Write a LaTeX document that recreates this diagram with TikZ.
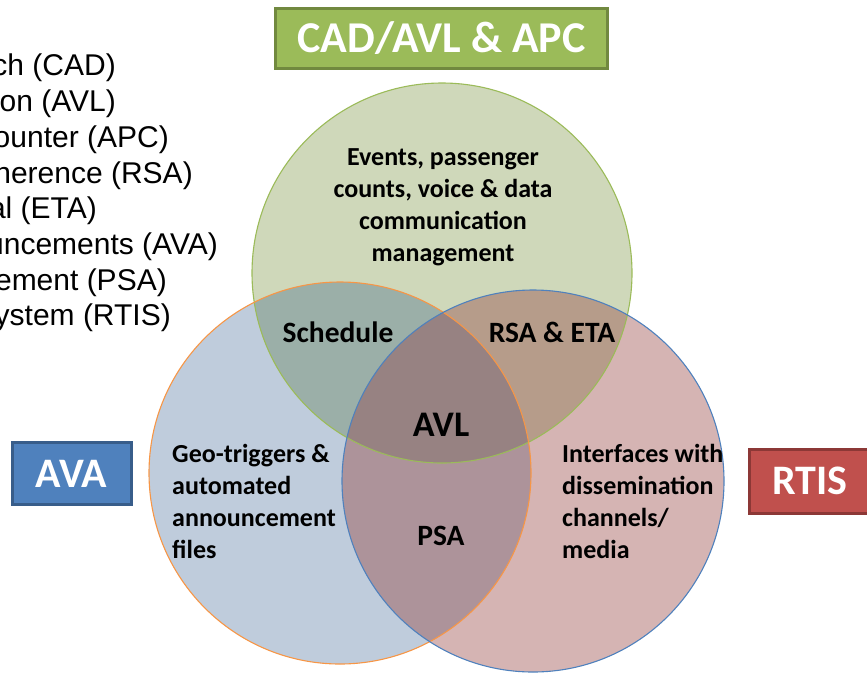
\documentclass[tikz,border=0pt]{standalone}
\usepackage{fontspec}
\setmainfont{Carlito}
\newfontfamily\listfont{Liberation Sans}
\definecolor{gfill}{HTML}{CFD8BA}
\definecolor{bfill}{HTML}{BFCCDC}
\definecolor{rfill}{HTML}{D5B4B3}
\definecolor{gbfill}{HTML}{9BAFA8}
\definecolor{grfill}{HTML}{B69C8A}
\definecolor{brfill}{HTML}{AD939A}
\definecolor{allfill}{HTML}{978282}
\definecolor{gline}{HTML}{9BBB59}
\definecolor{bline}{HTML}{F79646}
\definecolor{rline}{HTML}{4F81BD}
\definecolor{gtag}{HTML}{9BBB59}
\definecolor{gtagline}{HTML}{71893F}
\definecolor{btag}{HTML}{4F81BD}
\definecolor{btagline}{HTML}{385D8A}
\definecolor{rtag}{HTML}{C0504D}
\definecolor{rtagline}{HTML}{8C3836}

\begin{document}
\begin{tikzpicture}[x=1pt,y=-1pt,
		tag/.style={draw, line width=3pt, text=white, inner sep=0pt,
			font=\bfseries\fontsize{44}{52}\selectfont},
		lbl/.style={font=\bfseries\fontsize{26}{32}\selectfont, inner sep=0pt},
		big/.style={font=\bfseries\fontsize{29.5}{34}\selectfont, inner sep=0pt},
		item/.style={anchor=east, inner sep=0pt, font=\listfont\fontsize{30}{36}\selectfont}]
			\useasboundingbox (0,0) rectangle (867,673);

			% circles and their overlaps
			\fill[gfill] (442,273) circle (190pt);
			\fill[bfill] (340,473) circle (191pt);
			\fill[rfill] (533,481) circle (191pt);
			\begin{scope}
				\clip (442,273) circle (190pt);
				\fill[gbfill] (340,473) circle (191pt);
				\fill[grfill] (533,481) circle (191pt);
			\end{scope}
			\begin{scope}
				\clip (340,473) circle (191pt);
				\fill[brfill] (533,481) circle (191pt);
				\clip (442,273) circle (190pt);
				\fill[allfill] (533,481) circle (191pt);
			\end{scope}
			\draw[gline, line width=1.1pt] (442,273) circle (190pt);
			\draw[bline, line width=1.1pt] (340,473) circle (191pt);
			\draw[rline, line width=1.1pt] (533,481) circle (191pt);

			% labels
			\node[lbl, align=center] (events) at (443,207)
				{Events, passenger\\counts, voice \& data\\communication\\management};
			\node[big] (sched) at (338,332) {Schedule};
			\node[big] (rsa) at (552,332) {RSA \& ETA};
			\node[font=\bfseries\fontsize{36}{40}\selectfont, inner sep=0pt] (avl) at (441,425) {AVL};
			\node[big] (psa) at (441,536) {PSA};
			\node[lbl, anchor=west, align=left] (geo) at (172,501)
				{Geo-triggers \&\\automated\\announcement\\files};
			\node[lbl, anchor=west, align=left] (iface) at (562,501)
				{Interfaces with\\dissemination\\channels/\\media};

			% tags
			\node[tag, fill=gtag, draw=gtagline, minimum width=332pt, minimum height=60pt]
				(cad) at (441.5,38) {CAD/AVL \& APC};
			\node[tag, fill=btag, draw=btagline, minimum width=119pt, minimum height=62pt,
				font=\bfseries\fontsize{42}{48}\selectfont] (ava) at (71.5,473.5) {AVA};
			\node[tag, fill=rtag, draw=rtagline, minimum width=122pt, minimum height=64pt,
				font=\bfseries\fontsize{42}{48}\selectfont] (rtis) at (810,481) {RTIS};

			% list, cut at the left edge
			\node[item] (cadl) at (116,68) {ch (CAD)};
			\node[item] (avll) at (116,104) {on (AVL)};
			\node[item] (apcl) at (169,140) {ounter (APC)};
			\node[item] (rsal) at (193,176) {herence (RSA)};
			\node[item] (etal) at (97,211) {al (ETA)};
			\node[item] (aval) at (218,247) {uncements (AVA)};
			\node[item] (psal) at (167,283) {ement (PSA)};
			\node[item] (rtisl) at (171,318) {ystem (RTIS)};
		\end{tikzpicture}
\end{document}
